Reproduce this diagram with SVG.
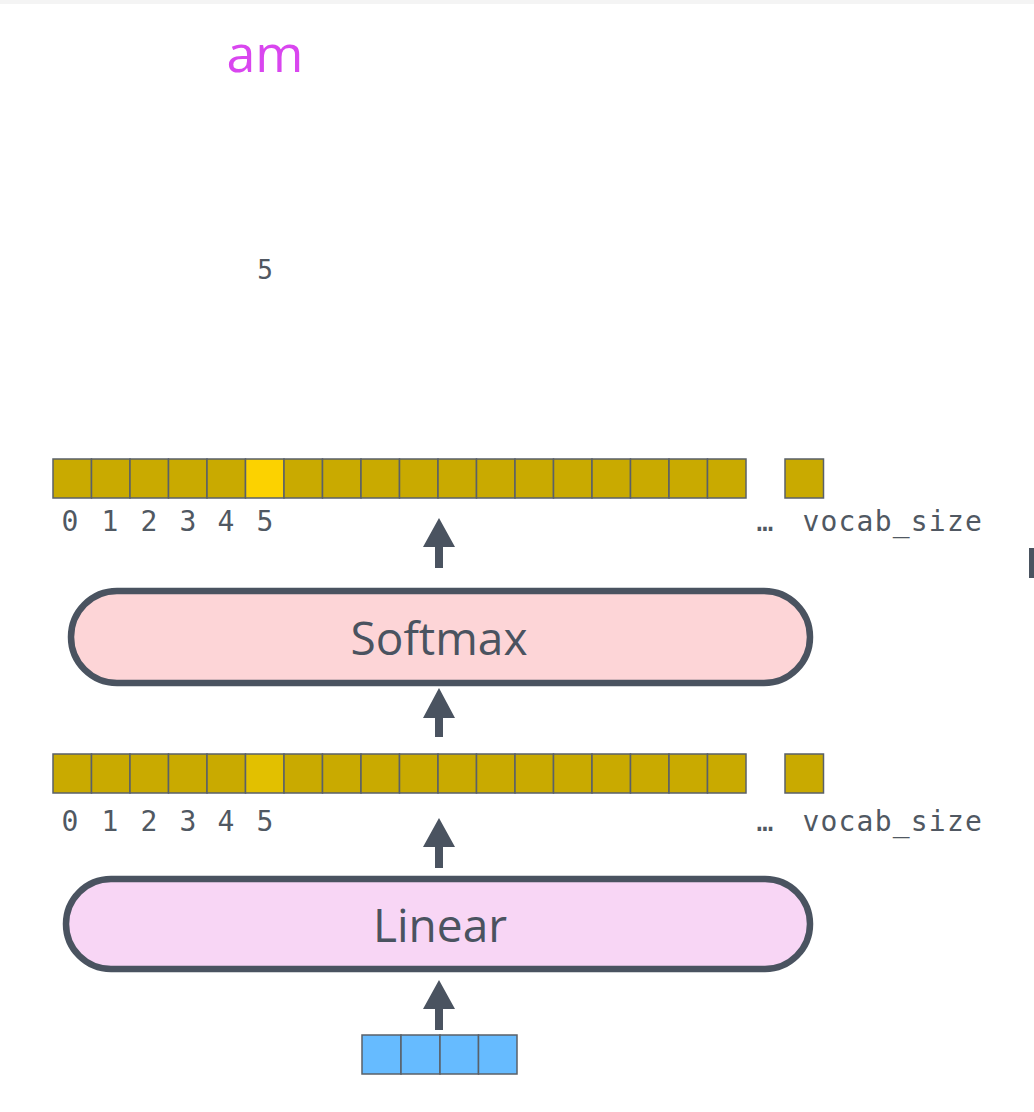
<svg xmlns="http://www.w3.org/2000/svg" width="1034" height="1112" viewBox="0 0 1034 1112">
<defs>
<style>
.cell{fill:#c9aa00;stroke:#5a6068;stroke-width:1.5}
.blue{fill:#66bbff;stroke:#5a6068;stroke-width:1.5}
.idx{font-family:"DejaVu Sans Mono",monospace;font-size:28px;fill:#505862;text-anchor:middle}
.voc{font-family:"DejaVu Sans Mono",monospace;font-size:28px;fill:#505862;text-anchor:end;letter-spacing:1.2px}
.pill{stroke:#4a5360;stroke-width:6.5}
.lbl{font-family:"Open Sans",sans-serif;font-size:46px;fill:#4a5360;text-anchor:middle}
.arrow{fill:#4a5360}
</style>
</defs>
<rect x="0" y="0" width="1034" height="1112" fill="#ffffff"/>
<rect x="0" y="0" width="1034" height="4" fill="#f4f4f4"/>
<rect x="1029" y="548" width="5" height="30" fill="#4a5360"/>

<g id="output-word">
<text x="265" y="72" font-family="'Open Sans',sans-serif" font-size="52" fill="#d946ef" text-anchor="middle">am</text>
</g>
<g id="output-index">
<text x="265" y="279" font-family="'DejaVu Sans Mono',monospace" font-size="26" fill="#505862" text-anchor="middle">5</text>
</g>

<g id="softmax-output">
<rect class="cell" x="53" y="459" width="38.5" height="39"/>
<rect class="cell" x="91.5" y="459" width="38.5" height="39"/>
<rect class="cell" x="130" y="459" width="38.5" height="39"/>
<rect class="cell" x="168.5" y="459" width="38.5" height="39"/>
<rect class="cell" x="207" y="459" width="38.5" height="39"/>
<rect class="cell" x="245.5" y="459" width="38.5" height="39" style="fill:#fcd200"/>
<rect class="cell" x="284" y="459" width="38.5" height="39"/>
<rect class="cell" x="322.5" y="459" width="38.5" height="39"/>
<rect class="cell" x="361" y="459" width="38.5" height="39"/>
<rect class="cell" x="399.5" y="459" width="38.5" height="39"/>
<rect class="cell" x="438" y="459" width="38.5" height="39"/>
<rect class="cell" x="476.5" y="459" width="38.5" height="39"/>
<rect class="cell" x="515" y="459" width="38.5" height="39"/>
<rect class="cell" x="553.5" y="459" width="38.5" height="39"/>
<rect class="cell" x="592" y="459" width="38.5" height="39"/>
<rect class="cell" x="630.5" y="459" width="38.5" height="39"/>
<rect class="cell" x="669" y="459" width="38.5" height="39"/>
<rect class="cell" x="707.5" y="459" width="38.5" height="39"/>
<rect class="cell" x="785" y="459" width="38.5" height="39"/>
<text class="idx" x="70" y="531">0</text>
<text class="idx" x="110" y="531">1</text>
<text class="idx" x="149" y="531">2</text>
<text class="idx" x="188" y="531">3</text>
<text class="idx" x="226" y="531">4</text>
<text class="idx" x="265" y="531">5</text>
<text class="idx" x="765" y="531">…</text>
<text class="voc" x="983" y="531">vocab_size</text>
</g>

<g id="softmax">
<rect class="pill" x="71" y="591" width="739" height="92" rx="46" fill="#fdd5d7"/>
<text class="lbl" x="439" y="655">Softmax</text>
</g>

<g id="linear-output">
<rect class="cell" x="53" y="754" width="38.5" height="39"/>
<rect class="cell" x="91.5" y="754" width="38.5" height="39"/>
<rect class="cell" x="130" y="754" width="38.5" height="39"/>
<rect class="cell" x="168.5" y="754" width="38.5" height="39"/>
<rect class="cell" x="207" y="754" width="38.5" height="39"/>
<rect class="cell" x="245.5" y="754" width="38.5" height="39" style="fill:#e2c000"/>
<rect class="cell" x="284" y="754" width="38.5" height="39"/>
<rect class="cell" x="322.5" y="754" width="38.5" height="39"/>
<rect class="cell" x="361" y="754" width="38.5" height="39"/>
<rect class="cell" x="399.5" y="754" width="38.5" height="39"/>
<rect class="cell" x="438" y="754" width="38.5" height="39"/>
<rect class="cell" x="476.5" y="754" width="38.5" height="39"/>
<rect class="cell" x="515" y="754" width="38.5" height="39"/>
<rect class="cell" x="553.5" y="754" width="38.5" height="39"/>
<rect class="cell" x="592" y="754" width="38.5" height="39"/>
<rect class="cell" x="630.5" y="754" width="38.5" height="39"/>
<rect class="cell" x="669" y="754" width="38.5" height="39"/>
<rect class="cell" x="707.5" y="754" width="38.5" height="39"/>
<rect class="cell" x="785" y="754" width="38.5" height="39"/>
<text class="idx" x="70" y="831">0</text>
<text class="idx" x="110" y="831">1</text>
<text class="idx" x="149" y="831">2</text>
<text class="idx" x="188" y="831">3</text>
<text class="idx" x="226" y="831">4</text>
<text class="idx" x="265" y="831">5</text>
<text class="idx" x="765" y="831">…</text>
<text class="voc" x="983" y="831">vocab_size</text>
</g>

<g id="linear">
<rect class="pill" x="66" y="879" width="744" height="90" rx="45" fill="#f8d6f5"/>
<text class="lbl" x="440" y="942">Linear</text>
</g>

<g id="input-vector">
<rect class="blue" x="362" y="1035" width="39" height="39"/>
<rect class="blue" x="401" y="1035" width="39" height="39"/>
<rect class="blue" x="440" y="1035" width="38.5" height="39"/>
<rect class="blue" x="478.5" y="1035" width="38.5" height="39"/>
</g>

<g id="connectors">
<path class="arrow" d="M439 518 L455 547 L443 547 L443 568 L435 568 L435 547 L423 547 Z"/>
<path class="arrow" d="M439 688 L455 718 L443 718 L443 737 L435 737 L435 718 L423 718 Z"/>
<path class="arrow" d="M439 818 L455 847 L443 847 L443 868 L435 868 L435 847 L423 847 Z"/>
<path class="arrow" d="M439 980 L455 1009 L443 1009 L443 1030 L435 1030 L435 1009 L423 1009 Z"/>
</g>
</svg>
